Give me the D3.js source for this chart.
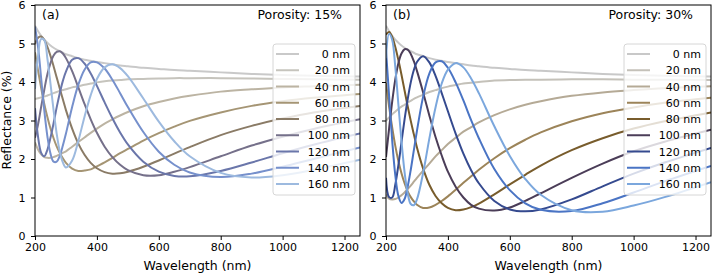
<!DOCTYPE html>
<html>
<head>
<meta charset="utf-8">
<script src="https://cdn.jsdelivr.net/npm/d3@7"></script>
<style>
  body { margin: 0; background: #fff; }
  svg { display: block; font-family: "DejaVu Sans", sans-serif; }
</style>
</head>
<body>
<svg id="chart" width="712" height="275"></svg>
<script>
// wavelengths (nm) shared by every curve
var wavelengths = [200,210,220,230,240,250,260,270,280,290,300,320,340,360,380,400,425,450,475,500,550,600,650,700,800,900,1000,1100,1250];
var thicknesses = ['0 nm','20 nm','40 nm','60 nm','80 nm','100 nm','120 nm','140 nm','160 nm'];
var xTicks = [200,400,600,800,1000,1200];
var yTicks = [0,1,2,3,4,5,6];

// reflectance (%) - porosity 15%
var p15_0   = [5.46,5.32,5.20,5.10,5.02,4.95,4.89,4.84,4.80,4.76,4.72,4.67,4.62,4.58,4.55,4.52,4.49,4.46,4.43,4.41,4.37,4.34,4.31,4.29,4.25,4.21,4.18,4.16,4.14];
var p15_20  = [3.56,3.58,3.60,3.62,3.65,3.68,3.71,3.74,3.77,3.79,3.81,3.86,3.89,3.93,3.96,3.99,4.02,4.04,4.05,4.07,4.08,4.09,4.10,4.10,4.10,4.09,4.08,4.07,4.06];
var p15_40  = [2.43,2.24,2.12,2.05,2.03,2.03,2.05,2.08,2.12,2.16,2.20,2.32,2.44,2.56,2.68,2.79,2.92,3.03,3.13,3.22,3.37,3.48,3.57,3.64,3.75,3.81,3.86,3.89,3.93];
var p15_60  = [4.77,4.29,3.84,3.43,3.09,2.79,2.54,2.33,2.16,2.02,1.90,1.75,1.69,1.70,1.73,1.81,1.91,2.03,2.15,2.26,2.48,2.67,2.84,2.99,3.21,3.38,3.50,3.59,3.69];
var p15_80  = [4.98,5.15,5.18,5.09,4.91,4.68,4.41,4.12,3.83,3.55,3.27,2.79,2.40,2.11,1.90,1.76,1.66,1.62,1.63,1.67,1.80,1.96,2.14,2.31,2.62,2.86,3.05,3.21,3.38];
var p15_100 = [2.55,2.90,3.36,3.80,4.20,4.49,4.69,4.78,4.80,4.74,4.62,4.28,3.86,3.43,3.03,2.68,2.32,2.05,1.85,1.71,1.58,1.58,1.67,1.79,2.07,2.35,2.58,2.78,3.03];
var p15_120 = [3.32,2.57,2.16,2.07,2.24,2.55,2.93,3.34,3.71,4.03,4.27,4.58,4.62,4.48,4.22,3.90,3.47,3.06,2.69,2.38,1.93,1.67,1.56,1.55,1.69,1.91,2.15,2.37,2.66];
var p15_140 = [5.44,4.90,4.09,3.26,2.59,2.14,1.93,1.93,2.08,2.35,2.66,3.35,3.93,4.32,4.51,4.51,4.35,4.06,3.71,3.35,2.70,2.19,1.85,1.65,1.53,1.62,1.80,2.00,2.30];
var p15_160 = [3.82,4.69,5.12,5.09,4.61,3.96,3.27,2.66,2.20,1.91,1.78,1.96,2.47,3.10,3.66,4.08,4.38,4.46,4.36,4.15,3.57,2.97,2.46,2.07,1.64,1.52,1.58,1.72,1.98];

// reflectance (%) - porosity 30%
var p30_0   = [5.46,5.32,5.20,5.10,5.02,4.95,4.89,4.84,4.80,4.76,4.72,4.67,4.62,4.58,4.55,4.52,4.49,4.46,4.43,4.41,4.37,4.34,4.31,4.29,4.25,4.21,4.18,4.16,4.14];
var p30_20  = [2.99,3.08,3.16,3.23,3.30,3.36,3.41,3.47,3.51,3.56,3.60,3.67,3.74,3.79,3.84,3.88,3.92,3.96,3.98,4.00,4.04,4.05,4.06,4.06,4.07,4.07,4.06,4.06,4.05];
var p30_40  = [1.08,0.97,0.95,0.96,1.00,1.06,1.13,1.22,1.31,1.41,1.51,1.70,1.88,2.07,2.23,2.39,2.55,2.71,2.83,2.95,3.14,3.29,3.41,3.50,3.64,3.73,3.79,3.84,3.89];
var p30_60  = [3.98,3.36,2.82,2.34,1.95,1.63,1.37,1.16,1.01,0.90,0.81,0.73,0.74,0.81,0.91,1.03,1.20,1.38,1.55,1.72,2.02,2.28,2.50,2.69,2.98,3.19,3.34,3.46,3.59];
var p30_80  = [5.23,5.30,5.17,4.91,4.57,4.19,3.78,3.37,2.99,2.64,2.30,1.75,1.33,1.04,0.85,0.73,0.67,0.69,0.75,0.84,1.08,1.34,1.59,1.83,2.23,2.54,2.79,2.98,3.21];
var p30_100 = [2.05,2.79,3.49,4.07,4.49,4.74,4.85,4.84,4.73,4.54,4.29,3.73,3.13,2.57,2.09,1.67,1.28,1.00,0.81,0.71,0.66,0.74,0.91,1.11,1.51,1.88,2.20,2.45,2.76];
var p30_120 = [1.51,1.01,1.00,1.33,1.84,2.44,3.03,3.55,3.99,4.31,4.52,4.67,4.51,4.16,3.71,3.24,2.66,2.14,1.71,1.37,0.91,0.69,0.64,0.69,0.95,1.29,1.62,1.91,2.29];
var p30_140 = [4.82,3.64,2.48,1.58,1.04,0.86,0.96,1.28,1.72,2.23,2.73,3.62,4.22,4.51,4.54,4.37,3.99,3.52,3.01,2.54,1.74,1.19,0.85,0.68,0.65,0.85,1.13,1.42,1.82];
var p30_160 = [4.62,5.25,5.09,4.39,3.42,2.46,1.66,1.11,0.83,0.80,0.95,1.64,2.53,3.34,3.96,4.32,4.49,4.38,4.09,3.71,2.85,2.08,1.48,1.07,0.67,0.63,0.79,1.01,1.40];

var colors15 = ['#c9c9c9','#c6c4bd','#bcb4a3','#a59574','#8a7b66','#75708a','#6a76aa','#7690cc','#9dbadf'];
var colors30 = ['#c8c8c8','#c4c1b9','#b5aa96','#9c8459','#785c2c','#4b3d58','#354a8f','#4a74c4','#7ba7dd'];

var panels = [
  {tag: '(a)', title: 'Porosity: 15%', left: 35, right: 360, colors: colors15,
   series: [p15_0,p15_20,p15_40,p15_60,p15_80,p15_100,p15_120,p15_140,p15_160]},
  {tag: '(b)', title: 'Porosity: 30%', left: 386, right: 711, colors: colors30,
   series: [p30_0,p30_20,p30_40,p30_60,p30_80,p30_100,p30_120,p30_140,p30_160]}
];

var plotTop = 5, plotBottom = 236;
var svg = d3.select('#chart');

panels.forEach(function(p, k) {
  var x = d3.scaleLinear().domain([200, 1250]).range([p.left, p.right]);
  var y = d3.scaleLinear().domain([0, 6]).range([plotBottom, plotTop]);

  svg.append('clipPath').attr('id', 'clip' + k)
    .append('rect')
    .attr('x', p.left).attr('y', plotTop)
    .attr('width', p.right - p.left).attr('height', plotBottom - plotTop);

  var line = d3.line()
    .x(function(d) { return x(d[0]); })
    .y(function(d) { return y(d[1]); })
    .curve(d3.curveCatmullRom.alpha(0.5));

  var g = svg.append('g').attr('clip-path', 'url(#clip' + k + ')');
  p.series.forEach(function(vals, i) {
    g.append('path')
      .datum(wavelengths.map(function(w, j) { return [w, vals[j]]; }))
      .attr('d', line)
      .attr('fill', 'none')
      .attr('stroke', p.colors[i])
      .attr('stroke-width', 2);
  });

  // axes
  var xa = svg.append('g')
    .attr('transform', 'translate(0,' + plotBottom + ')')
    .call(d3.axisBottom(x).tickValues(xTicks).tickFormat(d3.format('d')).tickSize(4).tickPadding(3.5));
  var ya = svg.append('g')
    .attr('transform', 'translate(' + p.left + ',0)')
    .call(d3.axisLeft(y).tickValues(yTicks).tickFormat(d3.format('d')).tickSize(4).tickPadding(5.5));
  [xa, ya].forEach(function(a) {
    a.select('.domain').remove();
    a.attr('font-family', null).attr('font-size', 11);
    a.selectAll('text').attr('fill', '#000');
    a.selectAll('line').attr('stroke', '#000');
  });

  svg.append('rect')
    .attr('x', p.left).attr('y', plotTop)
    .attr('width', p.right - p.left).attr('height', plotBottom - plotTop)
    .attr('fill', 'none').attr('stroke', '#000').attr('stroke-width', 1);

  svg.append('text')
    .attr('x', p.left + 7).attr('y', 19)
    .attr('font-size', 12.5)
    .text(p.tag);
  svg.append('text')
    .attr('x', p.right - 18).attr('y', 19)
    .attr('text-anchor', 'end')
    .attr('font-size', 12.5)
    .text(p.title);

  svg.append('text')
    .attr('x', (p.left + p.right) / 2).attr('y', 270)
    .attr('text-anchor', 'middle')
    .attr('font-size', 12.5)
    .text('Wavelength (nm)');

  // legend
  var lx = p.right - 87;
  var leg = svg.append('g');
  leg.append('rect')
    .attr('x', lx).attr('y', 44).attr('width', 82).attr('height', 151)
    .attr('rx', 3)
    .attr('fill', '#fff').attr('fill-opacity', 0.8)
    .attr('stroke', '#d6d6d6');
  thicknesses.forEach(function(t, i) {
    var ry = 54 + i * 16.25;
    leg.append('line')
      .attr('x1', lx + 3).attr('x2', lx + 26)
      .attr('y1', ry).attr('y2', ry)
      .attr('stroke', p.colors[i]).attr('stroke-width', 2);
    leg.append('text')
      .attr('x', lx + 77).attr('y', ry + 4)
      .attr('text-anchor', 'end')
      .attr('font-size', 11)
      .text(t);
  });
});

svg.append('text')
  .attr('transform', 'translate(10.5,120) rotate(-90)')
  .attr('text-anchor', 'middle')
  .attr('font-size', 12.5)
  .text('Reflectance (%)');
</script>
</body>
</html>
